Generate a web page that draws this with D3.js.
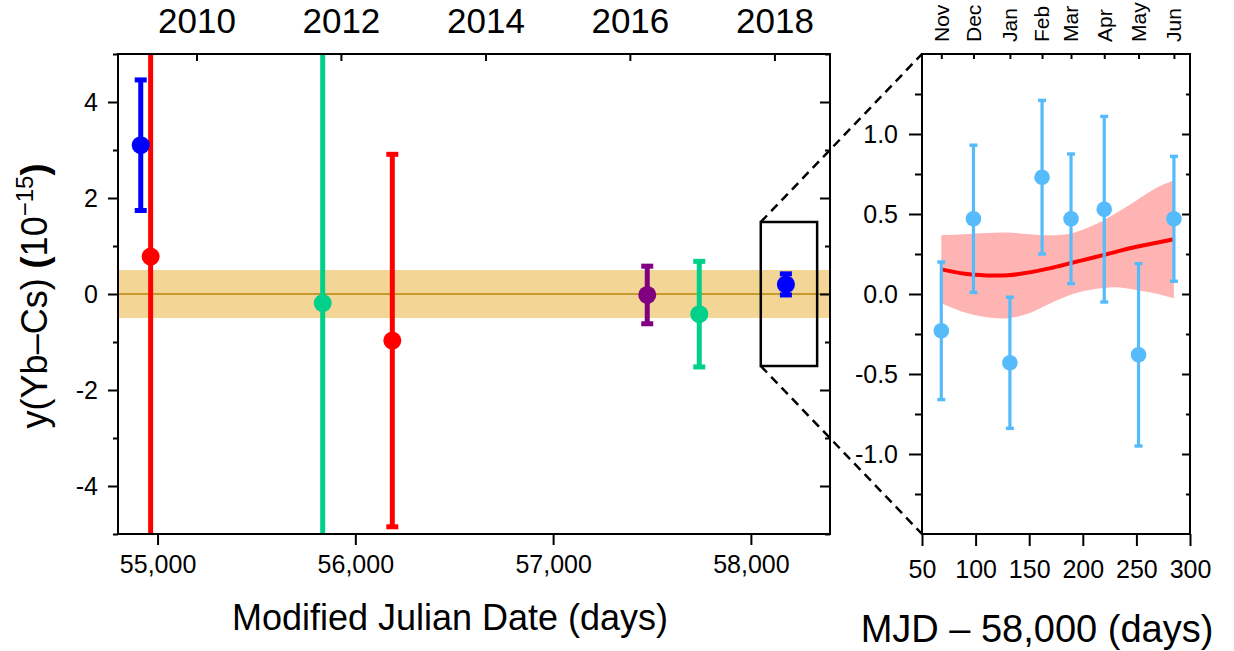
<!DOCTYPE html>
<html lang="en">
<head>
<meta charset="UTF-8"/>
<title>Yb-Cs frequency ratio</title>
<script src="https://d3js.org/d3.v7.min.js"></script>
<style>
    body { margin: 0; background: #fff; }
    text { font-family: "Liberation Sans", Arial, sans-serif; fill: #000; }
    .tick line { stroke: #000; stroke-width: 2; }
</style>
</head>
<body>
<script>
    // left panel: long-term measurements
    var mjd = [54915, 54965, 55835, 56187, 57476, 57739, 58177];
    var ratio = [3.10, 0.78, -0.19, -0.97, -0.02, -0.42, 0.20];
    var ratioErr = [1.36, 7.0, 8.0, 3.88, 0.60, 1.10, 0.22];
    var pointColors = ["#0000ff", "#ff0000", "#00d08a", "#ff0000", "#800080", "#00d08a", "#0000ff"];
    var mjdTicks = [55000, 56000, 57000, 58000];
    var yearLabels = ["2010", "2012", "2014", "2016", "2018"];
    var yearMJD = [55197, 55927, 56658, 57388, 58119];
    var leftYTicks = [-4, -2, 0, 2, 4];
    var leftYMinor = [-5, -3, -1, 1, 3, 5];
    var bandLimits = [-0.5, 0.5];
    var zoomBoxMJD = [58050, 58335];
    var zoomBoxY = [-1.5, 1.5];

    // right panel: 2017-2018 campaign
    var days = [68, 98, 132, 162, 189, 220, 252, 285];
    var months = ["Nov", "Dec", "Jan", "Feb", "Mar", "Apr", "May", "Jun"];
    var dayRatio = [-0.23, 0.47, -0.43, 0.73, 0.47, 0.53, -0.38, 0.47];
    var dayErr = [0.43, 0.46, 0.41, 0.48, 0.405, 0.58, 0.57, 0.39];
    var fitDays = [68, 90, 110, 130, 150, 170, 190, 210, 230, 250, 270, 285];
    var fitValue = [0.154, 0.126, 0.116, 0.117, 0.135, 0.162, 0.195, 0.228, 0.262, 0.295, 0.322, 0.342];
    var fitUpper = [0.367, 0.373, 0.381, 0.384, 0.373, 0.367, 0.38, 0.429, 0.502, 0.585, 0.668, 0.709];
    var fitLower = [-0.058, -0.116, -0.145, -0.151, -0.12, -0.058, -0.002, 0.029, 0.042, 0.025, 0.0, -0.027];
    var rightXTicks = [50, 100, 150, 200, 250, 300];
    var rightYTicks = [-1, -0.5, 0, 0.5, 1];
    var rightYMinor = [-1.25, -0.75, -0.25, 0.25, 0.75, 1.25];

    var w = 1234;
    var h = 651;
    var plotTop = 54, plotBottom = 534;

    var svg = d3.select("body")
                .append("svg")
                .attr("width", w)
                .attr("height", h);

    var xLeft = d3.scaleLinear().domain([54800, 58400]).range([118, 830]);
    var yLeft = d3.scaleLinear().domain([-5, 5]).range([plotBottom, plotTop]);
    var xRight = d3.scaleLinear().domain([50, 300]).range([922, 1190]);
    var yRight = d3.scaleLinear().domain([-1.5, 1.5]).range([plotBottom, plotTop]);

    function styleAxis(g, size) {
        g.select(".domain").remove();
        g.selectAll("text").attr("font-size", size)
            .attr("font-family", "'Liberation Sans', Arial, sans-serif");
    }

    // ---------- left panel ----------
    svg.append("clipPath").attr("id", "clipLeft")
        .append("rect")
        .attr("x", xLeft.range()[0]).attr("y", plotTop)
        .attr("width", xLeft.range()[1] - xLeft.range()[0])
        .attr("height", plotBottom - plotTop);

    var left = svg.append("g").attr("clip-path", "url(#clipLeft)");

    left.append("rect")
        .attr("x", xLeft.range()[0])
        .attr("width", xLeft.range()[1] - xLeft.range()[0])
        .attr("y", yLeft(bandLimits[1]))
        .attr("height", yLeft(bandLimits[0]) - yLeft(bandLimits[1]))
        .attr("fill", "#f3d696");

    left.append("line")
        .attr("x1", xLeft.range()[0]).attr("x2", xLeft.range()[1])
        .attr("y1", yLeft(0)).attr("y2", yLeft(0))
        .attr("stroke", "#b8860b").attr("stroke-width", 1.3);

    left.selectAll(".ebar")
        .data(mjd)
        .enter()
        .append("line")
        .attr("x1", function(d) { return xLeft(d); })
        .attr("x2", function(d) { return xLeft(d); })
        .attr("y1", function(d, i) { return yLeft(ratio[i] + ratioErr[i]); })
        .attr("y2", function(d, i) { return yLeft(ratio[i] - ratioErr[i]); })
        .attr("stroke", function(d, i) { return pointColors[i]; })
        .attr("stroke-width", 5);

    [1, -1].forEach(function(s) {
        left.selectAll(".cap" + s)
            .data(mjd)
            .enter()
            .append("rect")
            .attr("x", function(d) { return xLeft(d) - 6; })
            .attr("y", function(d, i) { return yLeft(ratio[i] + s * ratioErr[i]) - 2.5; })
            .attr("width", 12)
            .attr("height", 5)
            .attr("fill", function(d, i) { return pointColors[i]; });
    });

    left.selectAll("circle")
        .data(mjd)
        .enter()
        .append("circle")
        .attr("cx", function(d) { return xLeft(d); })
        .attr("cy", function(d, i) { return yLeft(ratio[i]); })
        .attr("r", 9)
        .attr("fill", function(d, i) { return pointColors[i]; });

    // zoom box and connector lines
    svg.append("rect")
        .attr("x", xLeft(zoomBoxMJD[0]))
        .attr("y", yLeft(zoomBoxY[1]))
        .attr("width", xLeft(zoomBoxMJD[1]) - xLeft(zoomBoxMJD[0]))
        .attr("height", yLeft(zoomBoxY[0]) - yLeft(zoomBoxY[1]))
        .attr("fill", "none").attr("stroke", "#000").attr("stroke-width", 2.5);

    svg.append("line")
        .attr("x1", xLeft(zoomBoxMJD[0])).attr("y1", yLeft(zoomBoxY[1]))
        .attr("x2", xRight.range()[0]).attr("y2", plotTop)
        .attr("stroke", "#000").attr("stroke-width", 2.5).attr("stroke-dasharray", "9,6");
    svg.append("line")
        .attr("x1", xLeft(zoomBoxMJD[0])).attr("y1", yLeft(zoomBoxY[0]))
        .attr("x2", xRight.range()[0]).attr("y2", plotBottom)
        .attr("stroke", "#000").attr("stroke-width", 2.5).attr("stroke-dasharray", "9,6");

    // left axes
    svg.append("g")
        .attr("transform", "translate(0," + plotBottom + ")")
        .call(d3.axisBottom(xLeft).tickValues(mjdTicks).tickFormat(d3.format(",")).tickSize(11).tickPadding(10))
        .call(styleAxis, 25);

    svg.append("g")
        .attr("transform", "translate(0," + plotTop + ")")
        .call(d3.axisTop(xLeft).tickValues(yearMJD).tickFormat(function(d, i) { return yearLabels[i]; }).tickSize(-7).tickPadding(21))
        .call(styleAxis, 35);

    svg.append("g")
        .attr("transform", "translate(" + xLeft.range()[0] + ",0)")
        .call(d3.axisLeft(yLeft).tickValues(leftYTicks).tickFormat(function(d) { return String(d); }).tickSize(10).tickPadding(10))
        .call(styleAxis, 25);
    svg.append("g")
        .attr("transform", "translate(" + xLeft.range()[0] + ",0)")
        .call(d3.axisLeft(yLeft).tickValues(leftYMinor).tickFormat("").tickSize(5))
        .call(styleAxis, 25);

    svg.append("g")
        .attr("transform", "translate(" + xLeft.range()[1] + ",0)")
        .call(d3.axisRight(yLeft).tickValues(leftYTicks).tickFormat("").tickSize(-10))
        .call(styleAxis, 25);
    svg.append("g")
        .attr("transform", "translate(" + xLeft.range()[1] + ",0)")
        .call(d3.axisRight(yLeft).tickValues(leftYMinor).tickFormat("").tickSize(-5))
        .call(styleAxis, 25);

    svg.append("rect")
        .attr("x", xLeft.range()[0]).attr("y", plotTop)
        .attr("width", xLeft.range()[1] - xLeft.range()[0])
        .attr("height", plotBottom - plotTop)
        .attr("fill", "none").attr("stroke", "#000").attr("stroke-width", 2);

    // left titles
    svg.append("text")
        .attr("x", 450).attr("y", 630)
        .attr("text-anchor", "middle")
        .attr("font-size", 36)
        .text("Modified Julian Date (days)");

    var yTitle = svg.append("text")
        .attr("transform", "translate(47,296) rotate(-90)")
        .attr("text-anchor", "middle")
        .attr("font-size", 36);
    yTitle.append("tspan").text("y(Yb\u2013Cs) ");
    yTitle.append("tspan").attr("font-weight", "bold").text("(");
    yTitle.append("tspan").text("10");
    yTitle.append("tspan").attr("font-size", 24).attr("dy", -14).text("\u221215");
    yTitle.append("tspan").attr("font-weight", "bold").attr("dy", 14).text(")");

    // ---------- right panel ----------
    var area = d3.area()
        .x(function(d) { return xRight(d); })
        .y0(function(d, i) { return yRight(fitLower[i]); })
        .y1(function(d, i) { return yRight(fitUpper[i]); })
        .curve(d3.curveCatmullRom);

    svg.append("path")
        .datum(fitDays)
        .attr("d", area)
        .attr("fill", "#ffb4b4");

    var line = d3.line()
        .x(function(d) { return xRight(d); })
        .y(function(d, i) { return yRight(fitValue[i]); })
        .curve(d3.curveCatmullRom);

    svg.append("path")
        .datum(fitDays)
        .attr("d", line)
        .attr("fill", "none")
        .attr("stroke", "#ff0000")
        .attr("stroke-width", 4);

    var blue = "#55bbfb";

    svg.selectAll(".rbar")
        .data(days)
        .enter()
        .append("line")
        .attr("x1", function(d) { return xRight(d); })
        .attr("x2", function(d) { return xRight(d); })
        .attr("y1", function(d, i) { return yRight(dayRatio[i] + dayErr[i]); })
        .attr("y2", function(d, i) { return yRight(dayRatio[i] - dayErr[i]); })
        .attr("stroke", blue)
        .attr("stroke-width", 3.2);

    [1, -1].forEach(function(s) {
        svg.selectAll(".rcap" + s)
            .data(days)
            .enter()
            .append("rect")
            .attr("x", function(d) { return xRight(d) - 4; })
            .attr("y", function(d, i) { return yRight(dayRatio[i] + s * dayErr[i]) - 1.7; })
            .attr("width", 8)
            .attr("height", 3.4)
            .attr("fill", blue);
    });

    svg.selectAll(".rdot")
        .data(days)
        .enter()
        .append("circle")
        .attr("cx", function(d) { return xRight(d); })
        .attr("cy", function(d, i) { return yRight(dayRatio[i]); })
        .attr("r", 7.8)
        .attr("fill", blue);

    // right axes
    svg.append("g")
        .attr("transform", "translate(0," + plotBottom + ")")
        .call(d3.axisBottom(xRight).tickValues(rightXTicks).tickSize(12).tickPadding(14))
        .call(styleAxis, 25);

    svg.append("g")
        .attr("transform", "translate(0," + plotTop + ")")
        .call(d3.axisTop(xRight).tickValues(days).tickFormat("").tickSize(-5))
        .call(styleAxis, 21);

    svg.selectAll(".month")
        .data(days)
        .enter()
        .append("text")
        .attr("transform", function(d) { return "translate(" + xRight(d) + ",42) rotate(-90)"; })
        .attr("dy", "0.35em")
        .attr("font-size", 21)
        .text(function(d, i) { return months[i]; });

    svg.append("g")
        .attr("transform", "translate(" + xRight.range()[0] + ",0)")
        .call(d3.axisLeft(yRight).tickValues(rightYTicks).tickFormat(function(d) { return d.toFixed(1); }).tickSize(13).tickPadding(11))
        .call(styleAxis, 25);
    svg.append("g")
        .attr("transform", "translate(" + xRight.range()[0] + ",0)")
        .call(d3.axisLeft(yRight).tickValues(rightYMinor).tickFormat("").tickSize(7))
        .call(styleAxis, 25);

    svg.append("g")
        .attr("transform", "translate(" + xRight.range()[1] + ",0)")
        .call(d3.axisRight(yRight).tickValues(rightYTicks).tickFormat("").tickSize(-8))
        .call(styleAxis, 25);
    svg.append("g")
        .attr("transform", "translate(" + xRight.range()[1] + ",0)")
        .call(d3.axisRight(yRight).tickValues(rightYMinor).tickFormat("").tickSize(-4))
        .call(styleAxis, 25);

    svg.append("rect")
        .attr("x", xRight.range()[0]).attr("y", plotTop)
        .attr("width", xRight.range()[1] - xRight.range()[0])
        .attr("height", plotBottom - plotTop)
        .attr("fill", "none").attr("stroke", "#000").attr("stroke-width", 2);

    svg.append("text")
        .attr("x", 1037).attr("y", 642)
        .attr("text-anchor", "middle")
        .attr("font-size", 38)
        .text("MJD \u2013 58,000 (days)");
</script>
</body>
</html>
